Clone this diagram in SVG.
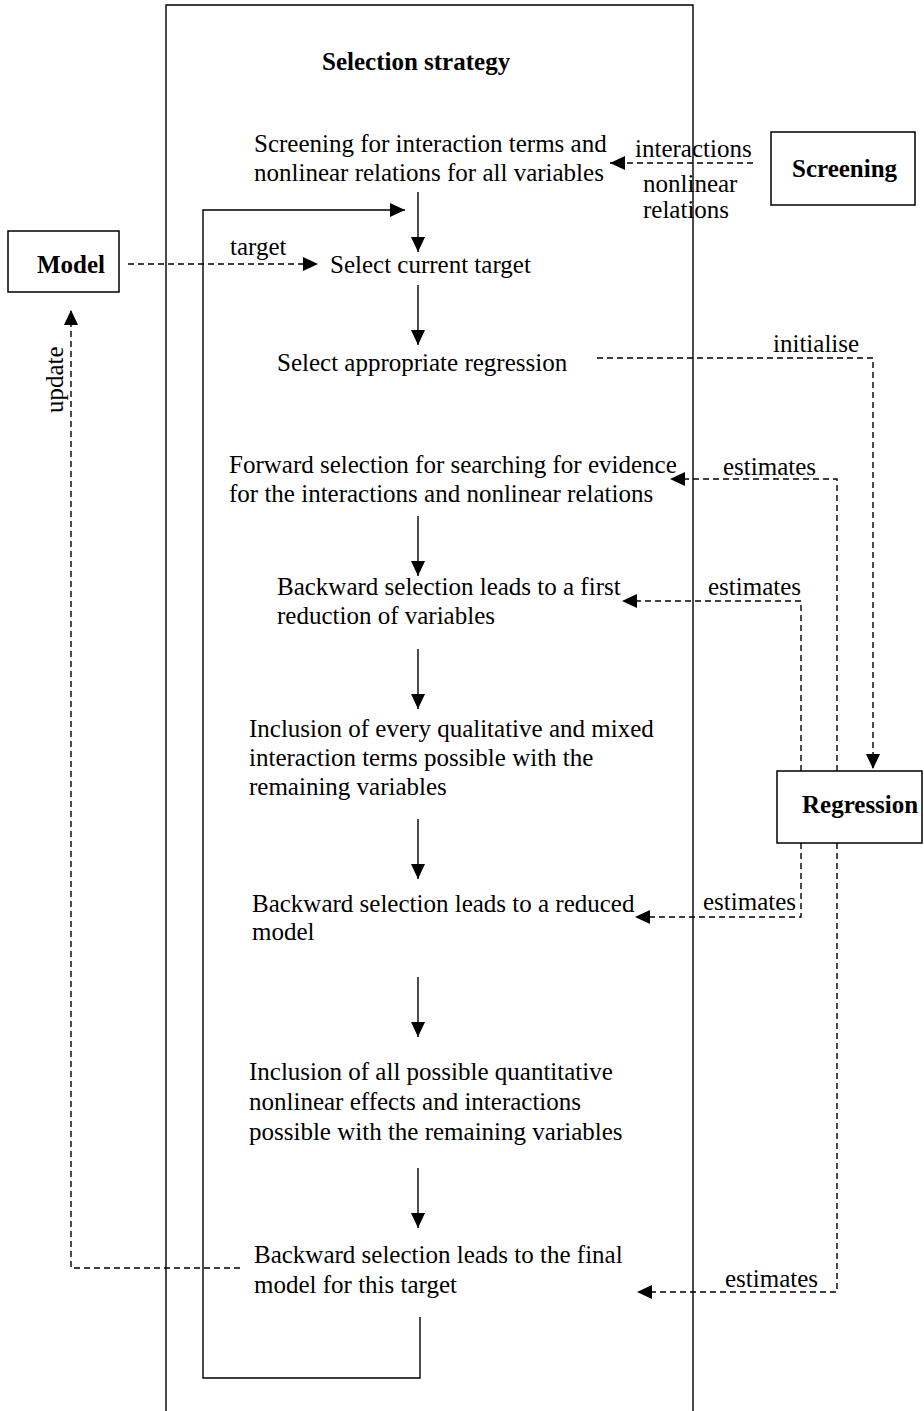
<svg xmlns="http://www.w3.org/2000/svg" width="924" height="1411" viewBox="0 0 924 1411">
<style>
text{font-family:"Liberation Serif","Times New Roman",serif;font-size:25px;fill:#000}
.b{font-weight:bold}
.box{fill:#fff;stroke:#000;stroke-width:1.5}
.s{fill:none;stroke:#000;stroke-width:1.4}
.d{fill:none;stroke:#000;stroke-width:1.4;stroke-dasharray:6,4}
</style>
<defs>
<marker id="ah" markerUnits="userSpaceOnUse" markerWidth="16" markerHeight="16" refX="15" refY="7" orient="auto">
<path d="M0,0 L15,7 L0,14 z" fill="#000" stroke="none"/>
</marker>
</defs>
<rect width="924" height="1411" fill="#fff"/>
<g id="strategy">
<path class="s" d="M166,1411 V5 H693 V1411"/>
<text class="b" x="322" y="70">Selection strategy</text>
</g>
<g id="screening">
<rect class="box" x="771" y="132" width="144" height="73"/>
<text class="b" x="792" y="177">Screening</text>
</g>
<g id="model">
<rect class="box" x="8" y="231" width="111" height="61"/>
<text class="b" x="37" y="273">Model</text>
</g>
<g id="regression">
<rect class="box" x="777" y="771" width="145" height="72"/>
<text class="b" x="802" y="813">Regression</text>
</g>
<g id="step1">
<text x="254" y="152">Screening for interaction terms and</text>
<text x="254" y="181">nonlinear relations for all variables</text>
</g>
<g id="step2"><text x="330" y="273">Select current target</text></g>
<g id="step3"><text x="277" y="371">Select appropriate regression</text></g>
<g id="step4">
<text x="229" y="473">Forward selection for searching for evidence</text>
<text x="229" y="502">for the interactions and nonlinear relations</text>
</g>
<g id="step5">
<text x="277" y="595">Backward selection leads to a first</text>
<text x="277" y="624">reduction of variables</text>
</g>
<g id="step6">
<text x="249" y="737">Inclusion of every qualitative and mixed</text>
<text x="249" y="766">interaction terms possible with the</text>
<text x="249" y="795">remaining variables</text>
</g>
<g id="step7">
<text x="252" y="912">Backward selection leads to a reduced</text>
<text x="252" y="940">model</text>
</g>
<g id="step8">
<text x="249" y="1080">Inclusion of all possible quantitative</text>
<text x="249" y="1110">nonlinear effects and interactions</text>
<text x="249" y="1140">possible with the remaining variables</text>
</g>
<g id="step9">
<text x="254" y="1263">Backward selection leads to the final</text>
<text x="254" y="1293">model for this target</text>
</g>
<g id="connectors">
<line class="s" x1="418" y1="192" x2="418" y2="252" marker-end="url(#ah)"/>
<line class="s" x1="418" y1="285" x2="418" y2="345" marker-end="url(#ah)"/>
<line class="s" x1="418" y1="516" x2="418" y2="576" marker-end="url(#ah)"/>
<line class="s" x1="418" y1="649" x2="418" y2="709" marker-end="url(#ah)"/>
<line class="s" x1="418" y1="819" x2="418" y2="879" marker-end="url(#ah)"/>
<line class="s" x1="418" y1="977" x2="418" y2="1037" marker-end="url(#ah)"/>
<line class="s" x1="418" y1="1168" x2="418" y2="1228" marker-end="url(#ah)"/>
<path class="s" d="M420,1317 V1378 H203 V210 H405" marker-end="url(#ah)"/>
<line class="d" x1="753" y1="163" x2="610" y2="163" marker-end="url(#ah)"/>
<text x="635" y="157">interactions</text>
<text x="643" y="192">nonlinear</text>
<text x="643" y="218">relations</text>
<line class="d" x1="128" y1="264" x2="318" y2="264" marker-end="url(#ah)"/>
<text x="230" y="255">target</text>
<path class="d" d="M240,1268 H71 V310" marker-end="url(#ah)"/>
<text transform="translate(63,413) rotate(-90)">update</text>
<path class="d" d="M597,358 H873 V769" marker-end="url(#ah)"/>
<text x="773" y="352">initialise</text>
<path class="d" d="M837,771 V479 H670" marker-end="url(#ah)"/>
<text x="723" y="475">estimates</text>
<path class="d" d="M801,771 V601 H622" marker-end="url(#ah)"/>
<text x="708" y="595">estimates</text>
<path class="d" d="M801,843 V917 H635" marker-end="url(#ah)"/>
<text x="703" y="910">estimates</text>
<path class="d" d="M837,843 V1292 H637" marker-end="url(#ah)"/>
<text x="725" y="1287">estimates</text>
</g>
</svg>
